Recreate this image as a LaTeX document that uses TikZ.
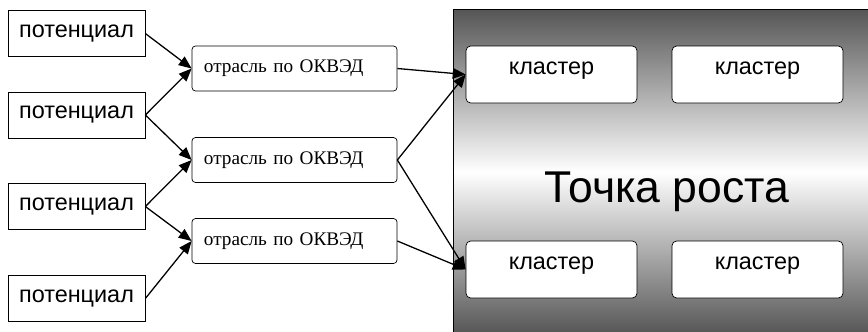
\documentclass[tikz,border=0pt]{standalone}
\usepackage{fontspec}
\setmainfont{Liberation Serif}
\newfontfamily\arialfont{Liberation Sans}
\usetikzlibrary{arrows.meta}
\definecolor{panelgray}{HTML}{555555}

\begin{document}
\begin{tikzpicture}[x=0.03cm, y=-0.03cm,
  potbox/.style={draw=black, line width=0.6pt, fill=white, inner sep=0pt,
    minimum width=4.11cm, minimum height=1.38cm, font=\arialfont\fontsize{20}{22}\selectfont},
  otrbox/.style={draw=black, line width=0.6pt, fill=white, rounded corners=3pt, inner xsep=0.36cm,
    inner ysep=0pt, text width=5.43cm, align=left, minimum height=1.35cm,
    font=\fontsize{16.4}{18}\selectfont},
  klbox/.style={draw=black, line width=0.6pt, fill=white, rounded corners=4pt, inner sep=0pt,
    minimum width=5.13cm, minimum height=1.71cm, text height=0.42cm, text depth=0.42cm,
    font=\arialfont\fontsize{20}{22}\selectfont},
  link/.style={black, line width=1.1pt, -{Triangle[length=11pt,width=9pt]}}]

\useasboundingbox (0,0) rectangle (868,331);

\shade[top color=panelgray, bottom color=panelgray, middle color=white] (453,9) rectangle (872,335);
\draw[black, line width=0.6pt] (453,335) -- (453,9) -- (872,9);

\node[potbox] (pot1) at (76.5,33.5) {потенциал};
\node[potbox] (pot2) at (76.5,115) {потенциал};
\node[potbox] (pot3) at (76.5,206.5) {потенциал};
\node[potbox] (pot4) at (76.5,298.5) {потенциал};

\node[otrbox] (otr1) at (294.5,68.5) {отрасль по ОКВЭД};
\node[otrbox] (otr2) at (294.5,160) {отрасль по ОКВЭД};
\node[otrbox] (otr3) at (294.5,241) {отрасль по ОКВЭД};

\node[klbox] (kl1) at (551.5,74.5) {кластер};
\node[klbox] (kl2) at (757.5,74.5) {кластер};
\node[klbox] (kl3) at (551.5,269.5) {кластер};
\node[klbox] (kl4) at (757.5,269.5) {кластер};

\node[anchor=base, font=\arialfont\fontsize{38}{42}\selectfont] (tochka) at (667,202) {Точка роста};

\draw[link] (pot1.east) -- (otr1.west);
\draw[link] (pot2.east) -- (otr1.west);
\draw[link] (pot2.east) -- (otr2.west);
\draw[link] (pot3.east) -- (otr2.west);
\draw[link] (pot3.east) -- (otr3.west);
\draw[link] (pot4.east) -- (otr3.west);

\draw[link] (otr1.east) -- (kl1.west);
\draw[link] (otr2.east) -- (kl1.west);
\draw[link] (otr2.east) -- (kl3.west);
\draw[link] (otr3.east) -- (kl3.west);

\end{tikzpicture}
\end{document}
